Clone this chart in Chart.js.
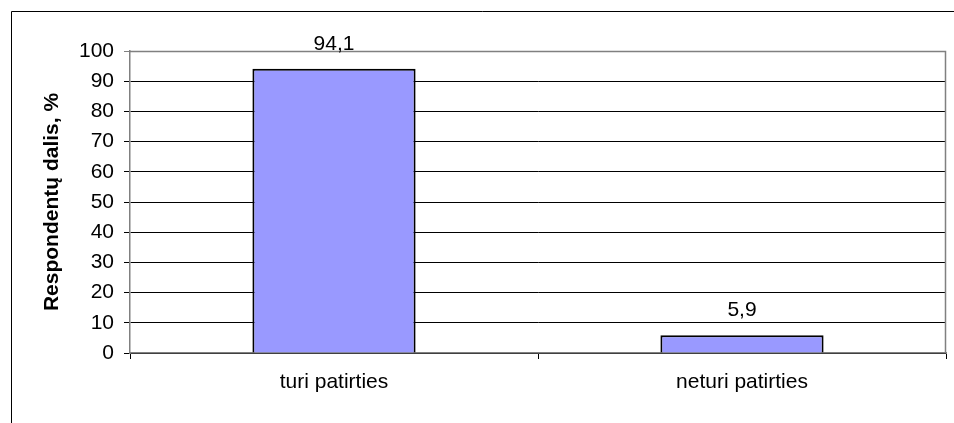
<!DOCTYPE html>
<html>
<head>
<meta charset="utf-8">
<script src="https://cdn.jsdelivr.net/npm/chart.js@4"></script>
<style>
  html, body { margin: 0; padding: 0; background: #fff; }
  #wrap { width: 954px; height: 423px; position: relative; }
</style>
</head>
<body>
<div id="wrap"><canvas id="chart" width="954" height="423"></canvas></div>
<script>
const categories = ["turi patirties", "neturi patirties"];
const shares = [94.1, 5.9];
const yTicks = [0, 10, 20, 30, 40, 50, 60, 70, 80, 90, 100];

const FONT = "'Liberation Sans', Arial, sans-serif";

// outer frame + grey plot border + value labels
const framePlugin = {
  id: "frame",
  beforeDraw(chart) {
    const c = chart.ctx;
    c.save();
    c.fillStyle = "#fff";
    c.fillRect(0, 0, chart.width, chart.height);
    c.strokeStyle = "#000";
    c.lineWidth = 1;
    c.beginPath();
    c.moveTo(11.5, chart.height);
    c.lineTo(11.5, 11.5);
    c.lineTo(chart.width, 11.5);
    c.stroke();
    c.restore();
  },
  afterDraw(chart) {
    const c = chart.ctx;
    const a = chart.chartArea;
    c.save();
    c.strokeStyle = "#808080";
    c.lineWidth = 1.5;
    c.beginPath();
    c.moveTo(a.left, a.top + 0.5);
    c.lineTo(a.right - 0.5, a.top + 0.5);
    c.lineTo(a.right - 0.5, a.bottom);
    c.stroke();

    c.fillStyle = "#000";
    c.font = "21px " + FONT;
    c.textAlign = "center";
    c.textBaseline = "alphabetic";
    chart.getDatasetMeta(0).data.forEach((bar, i) => {
      c.fillText(String(shares[i]).replace(".", ","), bar.x, bar.y - 19);
    });
    c.restore();
  }
};

new Chart(document.getElementById("chart"), {
  type: "bar",
  data: {
    labels: categories,
    datasets: [{
      data: shares,
      backgroundColor: "#9999FF",
      borderColor: "#000",
      borderWidth: 2,
      categoryPercentage: 1,
      barPercentage: 0.4
    }]
  },
  options: {
    responsive: false,
    animation: false,
    layout: { padding: { top: 51, right: 8, left: 0, bottom: 0 } },
    plugins: { legend: { display: false }, tooltip: { enabled: false } },
    scales: {
      y: {
        min: 0,
        max: 100,
        afterBuildTicks(scale) {
          scale.ticks = yTicks.map(v => ({ value: v }));
        },
        afterFit(scale) { scale.width = 130; },
        grid: {
          color: ctx => (ctx.tick && ctx.tick.value === 100 ? "#808080" : "#000"),
          tickLength: 6,
          lineWidth: 1
        },
        border: { color: "#808080", width: 1.5 },
        ticks: {
          color: "#000",
          font: { family: FONT, size: 21 },
          padding: 10
        },
        title: {
          display: true,
          text: "Respondentų dalis, %",
          color: "#000",
          font: { family: FONT, size: 21, weight: "bold" },
          padding: { top: 40, bottom: 0 }
        }
      },
      x: {
        afterFit(scale) { scale.height = 70; },
        grid: {
          offset: true,
          drawOnChartArea: false,
          drawTicks: true,
          tickLength: 6,
          color: "#000"
        },
        border: { color: "#808080", width: 1.5 },
        ticks: {
          color: "#000",
          font: { family: FONT, size: 21 },
          padding: 11
        }
      }
    }
  },
  plugins: [framePlugin]
});
</script>
</body>
</html>
